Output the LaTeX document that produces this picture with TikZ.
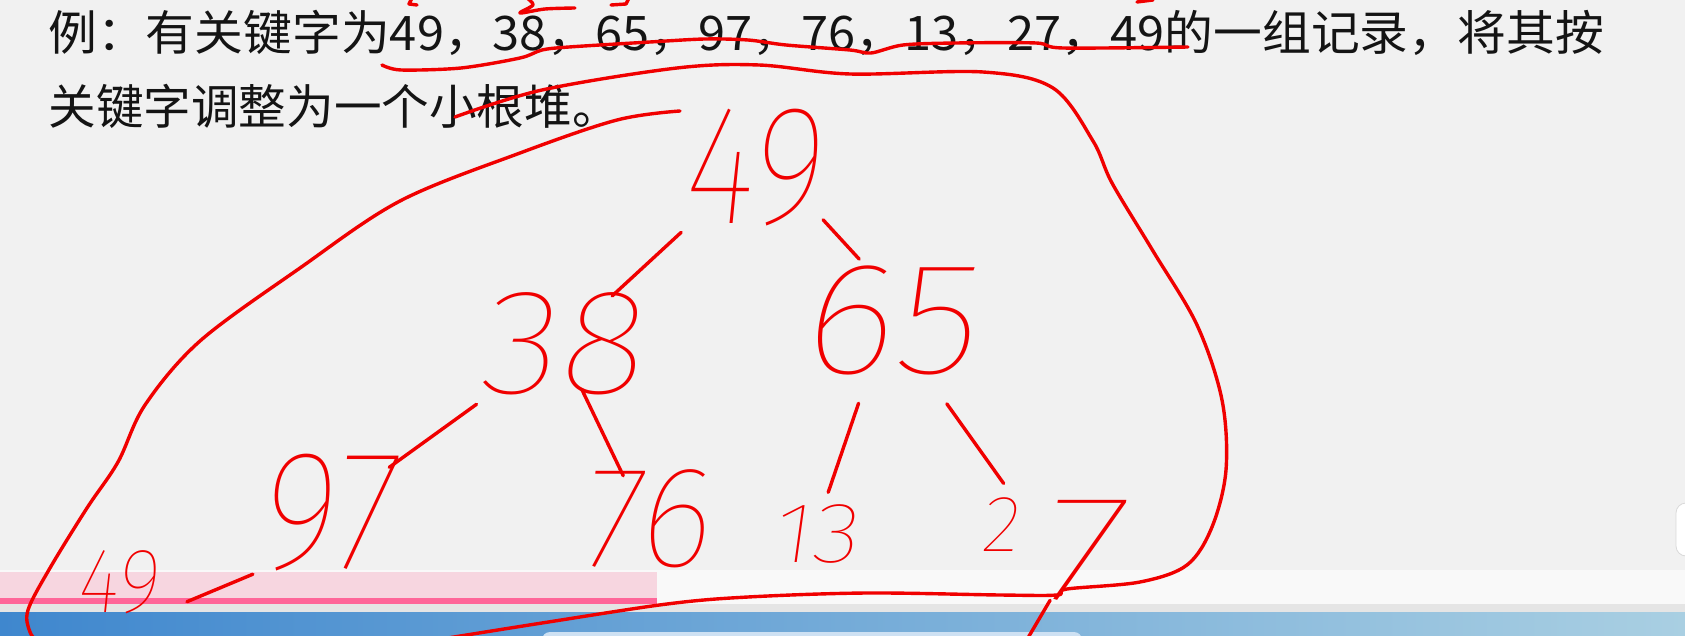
\documentclass[tikz,border=0pt]{standalone}
\usepackage{fontspec}
\newfontfamily\cjkfont{Noto Sans CJK SC}
\newcommand{\pickhand}[2]{\IfFontExistsTF{#1}{\newfontfamily\handfont{#1}[FakeSlant=0.12]}{#2}}
\pickhand{Fira Sans Thin}{%
 \pickhand{Lato Thin}{%
  \pickhand{Noto Sans Thin}{%
   \pickhand{Fira Sans ExtraLight}{%
    \pickhand{Noto Sans ExtraLight}{%
     \pickhand{DejaVu Sans ExtraLight}{%
      \pickhand{Lato Light}{%
       \pickhand{Fira Sans Light}{%
        \pickhand{Noto Sans Light}{%
         \newfontfamily\handfont{Liberation Sans}[FakeSlant=0.12]}}}}}}}}}
\newcommand{\hsz}[1]{\handfont\fontsize{#1}{#1}\selectfont}
\definecolor{bgc}{HTML}{F1F1F1}
\definecolor{inkred}{HTML}{F00000}
\definecolor{pinkband}{HTML}{F7D6E0}
\definecolor{pinkline}{HTML}{FF6699}
\definecolor{barL}{HTML}{3F87CE}
\definecolor{barM}{HTML}{5C9CD6}
\definecolor{barR}{HTML}{A9CFE2}
\definecolor{txt}{HTML}{141414}
\begin{document}
\begin{tikzpicture}[x=0.5pt,y=-0.5pt,
  ink/.style={draw=inkred, line width=1.7pt, line cap=round, line join=round},
  handnum/.style={text=inkred, inner sep=0pt},
  slidetext/.style={text=txt, inner sep=0pt, anchor=west, font=\cjkfont\fontsize{23.8}{28}\selectfont}]
\useasboundingbox (0,0) rectangle (1685,636);
% background and screen bits
\fill[bgc] (0,0) rectangle (1685,636);
\fill[white!60!bgc] (0,570) rectangle (1685,604);
\fill[pinkband] (0,572) rectangle (657,598);
\fill[pinkline] (0,598) rectangle (657,604);
\fill[black!10] (0,604) rectangle (1685,612);
\shade[left color=barL, middle color=barM, right color=barR] (0,612) rectangle (1685,640);
\fill[white!70!barM, rounded corners=4pt] (542,632) rectangle (1082,650);
\filldraw[fill=white, draw=black!15, rounded corners=5pt] (1676,503) rectangle (1695,556);
% slide text
\node[slidetext, xscale=1.025] (l1) at (48,33) {例：有关键字为49，38，65，97，76，13，27，49的一组记录，将其按};
\node[slidetext] (l2) at (48,106) {关键字调整为一个小根堆。};
% handwritten tree values
\node[handnum, font=\hsz{85}, xscale=0.82] (root) at (751,168) {49};
\node[handnum, font=\hsz{75}, xscale=1.1] (n38) at (560,344) {38};
\node[handnum, font=\hsz{80}, xscale=1.12] (n65) at (887,320) {65};
\node[handnum, font=\hsz{85}, xscale=0.86] (n97) at (326,513) {97};
\node[handnum, font=\hsz{72}, xscale=0.98] (n76) at (644,519) {76};
\node[handnum, font=\hsz{43}, xscale=1.15] (n13) at (814,534) {13};
\node[handnum, font=\hsz{40}, anchor=base west] (n27) at (980,551) {2\hspace{9pt}\raisebox{-24pt}{\hsz{75}\scalebox{1.3}[1]{7}}};
\node[handnum, font=\hsz{46}, xscale=0.88] (n49b) at (117,582) {49};
\coordinate (tail) at (1022,648);
% tree edges
\draw[ink, shorten <=47.5pt, shorten >=35.5pt] (root.center) -- (n38.center);
\draw[ink, shorten <=2pt, shorten >=4pt] (root.-30) -- (n65.110);
\draw[ink, shorten <=51.5pt, shorten >=39pt] (n38.center) -- (n97.center);
\draw[ink, shorten <=25pt, shorten >=24pt] (n38.center) -- (n76.center);
\draw[ink, shorten <=44pt, shorten >=22pt] (n65.center) -- (n13.center);
\draw[ink, shorten <=51.5pt, shorten >=40pt] (n65.center) -- (n27.center);
\draw[ink, shorten <=3pt, shorten >=16pt] (n97.south west) -- (n49b.south east);
% the long tail of the handwritten 7
\draw[ink] (n27.south) -- (tail);
% underline of the key list
\draw[ink] plot[smooth, tension=0.5] coordinates {(382,65) (401,70) (461,68) (520,58) (542,50) (569,47) (650,42) (705,39) (748,40) (786,45) (850,50) (871,53) (903,45) (956,43) (1036,43) (1063,48) (1188,47)};
% small marks at the top
\draw[ink] plot[smooth, tension=0.5] coordinates {(527,-2) (533,5) (520,13) (545,9) (575,8)};
\draw[ink] (412,-2) -- (409,4) -- (417,5);
\draw[ink] (611,5) -- (626,4) -- (629,-2);
\draw[ink] (1137,2) -- (1153,0);
% left loop
\draw[ink] plot[smooth, tension=0.55] coordinates {(680,111) (617,120) (520,153) (400,201) (300,268) (200,341) (145,405) (118,462) (87,508) (50,568) (28,610) (30,632) (40,645)};
% big right loop
\draw[ink] plot[smooth, tension=0.55] coordinates {(455,117) (542,90) (677,68) (759,65) (850,74) (983,72) (1053,88) (1093,141) (1112,183) (1153,251) (1197,325) (1222,400) (1226,470) (1212,527) (1187,565) (1140,582) (1067,589) (1057,595) (1000,595) (867,593) (748,597) (667,604) (542,623) (423,642)};
\end{tikzpicture}
\end{document}
